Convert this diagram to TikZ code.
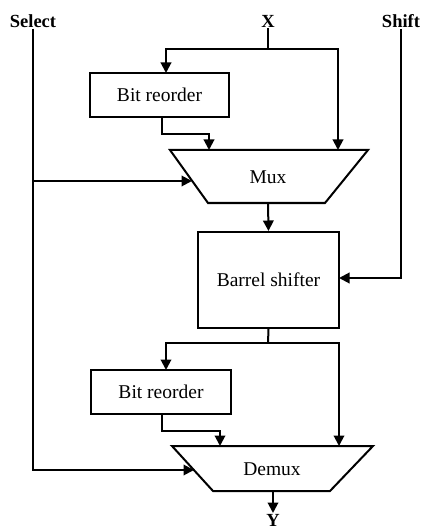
\documentclass[tikz,border=0pt]{standalone}
\usepackage{fontspec}
\setmainfont{Liberation Serif}
\usetikzlibrary{arrows.meta}
\begin{document}
\begin{tikzpicture}[x=1pt,y=-1pt,
  wire/.style={line width=2pt},
  arr/.style={wire,-{Triangle[length=10.5pt,width=10.5pt]}},
  blk/.style={draw,line width=2pt,inner sep=0pt,font=\fontsize{19.5}{22}\selectfont},
  txt/.style={inner sep=0pt,font=\fontsize{19.5}{22}\selectfont},
  lab/.style={inner sep=1pt,font=\fontsize{18.5}{22}\selectfont\bfseries}]
\useasboundingbox (0,0) rectangle (422,529);
% labels
\node[lab] (sel) at (33,21) {Select};
\node[lab] (xin) at (268,21) {X};
\node[lab] (shf) at (401,21) {Shift};
\node[lab,anchor=north] (yout) at (273,513) {Y};
% blocks
\node[blk,minimum width=139pt,minimum height=44pt] (br1) at (159.5,95) {Bit reorder};
\node[blk,minimum width=141pt,minimum height=96pt] (bs) at (268.5,280) {Barrel shifter};
\node[blk,minimum width=140pt,minimum height=44pt] (br2) at (161,392) {Bit reorder};
\draw[wire,line join=miter] (170,150) coordinate (muxTL) -- (368,150) coordinate (muxTR)
  -- (325,203) coordinate (muxBR) -- (208,203) coordinate (muxBL) -- cycle;
\node[txt] (mux) at (268,177) {Mux};
\draw[wire,line join=miter] (172,446) coordinate (dmxTL) -- (373,446) coordinate (dmxTR)
  -- (330,491) coordinate (dmxBR) -- (213,491) coordinate (dmxBL) -- cycle;
\node[txt] (dmx) at (272,469) {Demux};
% connection points
\coordinate (xj) at (268,49);
\coordinate (br1in) at (166,73);
\coordinate (br1out) at (161.7,117);
\coordinate (muxin1) at (209,150);
\coordinate (muxin2) at (338,150);
\coordinate (muxsel) at (192,181);
\coordinate (muxout) at (268,203);
\coordinate (bsshift) at (339,278);
\coordinate (bsj) at (268,343);
\coordinate (br2in) at (166,370);
\coordinate (br2out) at (161.7,414);
\coordinate (dmxin1) at (220,446);
\coordinate (dmxin2) at (339,446);
\coordinate (dmxsel) at (194,470);
\coordinate (dmxout) at (273,491);
% wires
\draw[wire] (xin.south) -- (xj);
\draw[arr] (xj) -| (br1in);
\draw[arr] (xj) -| (muxin2);
\draw[arr] (br1out) |- (161.7,134) -| (muxin1);
\draw[arr] (sel.south) |- (dmxsel);
\draw[arr] (sel.south |- muxsel) -- (muxsel);
\draw[arr] (muxout) -- (bs.north);
\draw[arr] (shf.south) |- (bsshift);
\draw[wire] (bs.south) -- (bsj);
\draw[arr] (bsj) -| (br2in);
\draw[arr] (bsj) -| (dmxin2);
\draw[arr] (br2out) |- (161.7,431) -| (dmxin1);
\draw[arr] (dmxout) -- (yout.north);
\end{tikzpicture}
\end{document}
